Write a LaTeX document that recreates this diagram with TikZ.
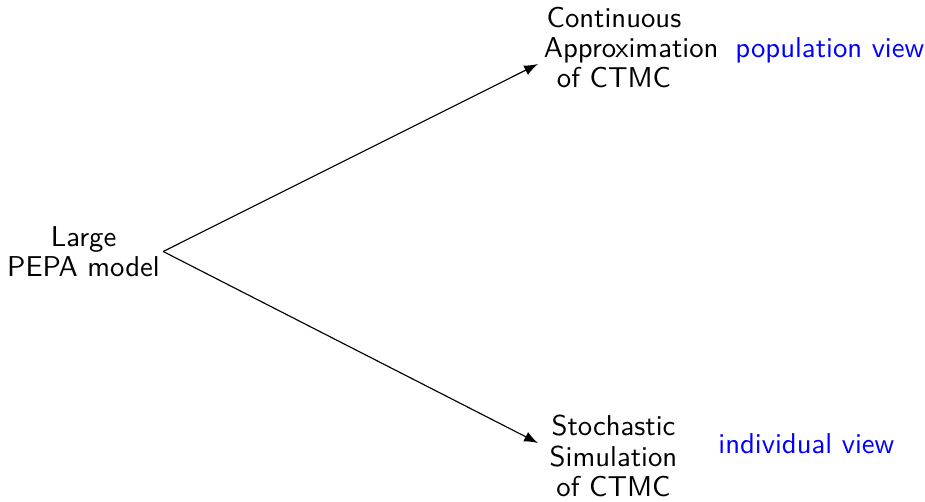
\documentclass[tikz,border=0pt]{standalone}
\usetikzlibrary{arrows.meta}

\begin{document}
\begin{tikzpicture}[x=0.3484pt, y=-0.3484pt,
  every node/.style={font=\sffamily\fontsize{10}{10.5}\selectfont, inner sep=1pt},
  stage/.style={align=center},
  viewlabel/.style={text=blue, anchor=base west},
  flow/.style={-{Latex}, line width=0.4pt}]
\useasboundingbox (0,0) rectangle (925,501);
\node[stage] (pepa) at (83.5,251.5) {Large\\PEPA model};
\node[stage] (cont) at (614,47.5) {Continuous\\\hspace*{12pt}Approximation\\of CTMC};
\node[stage] (sim) at (613.5,456) {Stochastic\\Simulation\\of CTMC};
\node[viewlabel] (popview) at (732,57) {population view};
\node[viewlabel] (indview) at (715,453) {individual view};
\draw[flow] (pepa.east) -- ([shift={(-76,16.5)}]cont.center);
\draw[flow] (pepa.east) -- ([shift={(-75.5,-13)}]sim.center);
\end{tikzpicture}
\end{document}
